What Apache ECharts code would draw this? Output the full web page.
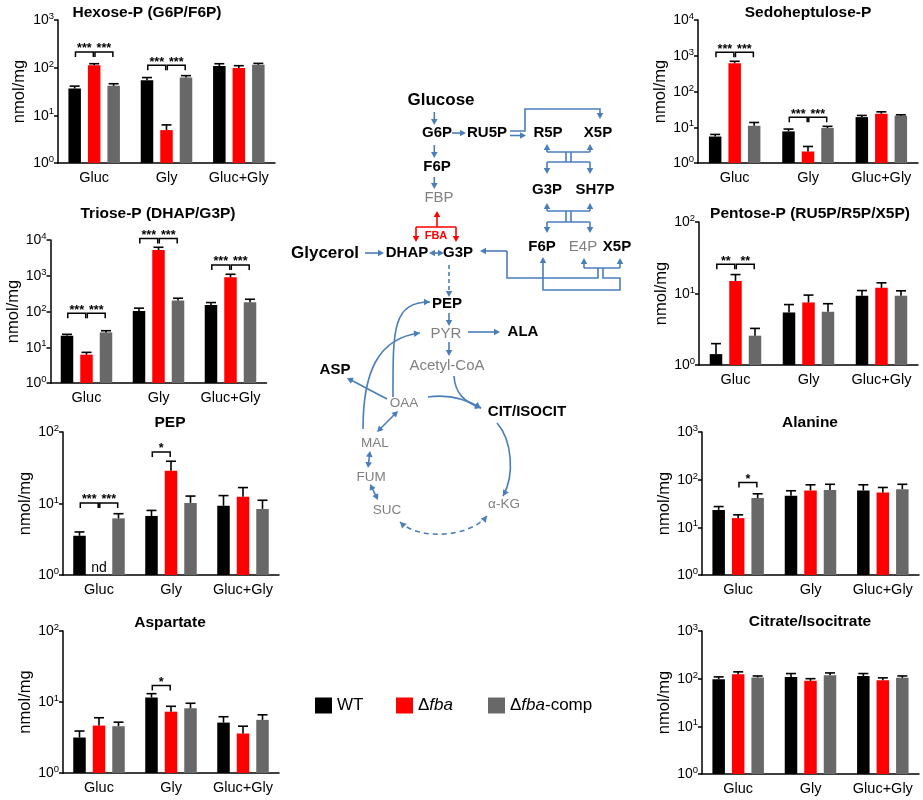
<!DOCTYPE html>
<html><head><meta charset="utf-8">
<script src="https://cdn.jsdelivr.net/npm/echarts@6/dist/echarts.min.js"></script>
<style>html,body{margin:0;padding:0;background:#fff}#c{width:923px;height:800px}</style>
</head><body><div id="c"></div>
<script>
// ---------------- DATA ----------------
const categories = ['Gluc', 'Gly', 'Gluc+Gly'];
const groupNames = ['WT', 'Δfba', 'Δfba-comp'];
const groupColors = ['#000000', '#ff0000', '#686868'];

// each: [WT, Δfba, Δfba-comp] x [Gluc, Gly, Gluc+Gly]; sig: [category, fromGroup, toGroup, bracketValue, stars]
const hexoseMean = [[36.5, 54.6, 108], [112, 4.9, 98.5], [41.5, 62, 115]];
const hexoseErr  = [[41, 62, 121], [121, 6.3, 110], [46, 68, 123]];
const hexoseSig  = [[0, 0, 1, 213, 3], [0, 1, 2, 213, 3], [1, 0, 1, 112, 3], [1, 1, 2, 112, 3]];

const trioseMean = [[21, 104, 153], [6.2, 5250, 910], [26, 203, 182]];
const trioseErr  = [[23, 124, 178], [7.2, 6260, 1100], [29, 235, 220]];
const trioseSig  = [[0, 0, 1, 90, 3], [0, 1, 2, 90, 3], [1, 0, 1, 11100, 3], [1, 1, 2, 11100, 3], [2, 0, 1, 2000, 3], [2, 1, 2, 2000, 3]];

const pepMean = [[3.54, 6.7, 9.3], [null, 28.6, 12.4], [6.2, 10.2, 8.4]];
const pepErr  = [[4.0, 8.0, 12.9], [null, 39, 16.7], [7.2, 12.7, 11.1]];
const pepSig  = [[0, 0, 1, 10.2, 3], [0, 1, 2, 10.2, 3], [1, 0, 1, 52.7, 1]];
const pepNotDetected = [[0, 1]]; // [category, group]

const aspMean = [[3.16, 11.6, 5.13], [4.66, 7.3, 3.6], [4.56, 8.15, 5.6]];
const aspErr  = [[3.9, 13.1, 6.2], [6.0, 8.7, 4.56], [5.2, 9.6, 6.6]];
const aspSig  = [[1, 0, 1, 17.1, 1]];

const sedoMean = [[5.5, 7.65, 19.2], [618, 2.1, 23.8], [11, 9.5, 21]];
const sedoErr  = [[6.3, 8.9, 21.4], [700, 2.9, 27], [13.6, 10.6, 22.3]];
const sedoSig  = [[0, 0, 1, 1250, 3], [0, 1, 2, 1250, 3], [1, 0, 1, 19, 3], [1, 1, 2, 19, 3]];

const pentoseMean = [[1.42, 5.43, 9.3], [15, 7.5, 12], [2.57, 5.55, 9.3]];
const pentoseErr  = [[1.99, 7.0, 11], [18.4, 9.5, 14.1], [3.25, 7.2, 10.9]];
const pentoseSig  = [[0, 0, 1, 25.7, 2], [0, 1, 2, 25.7, 2]];

const alaMean = [[23.2, 45.8, 59.3], [15.6, 59.5, 54], [41, 61, 63.2]];
const alaErr  = [[27.3, 58.5, 78], [18.3, 78, 68.6], [50.5, 80, 80]];
const alaSig  = [[0, 1, 2, 87.7, 1]];

const citMean = [[97.5, 109, 114], [124, 90, 93], [106, 118, 104]];
const citErr  = [[109, 128, 128], [139, 100, 104], [114, 132, 114]];
const citSig  = [];

const panelTitles = ['Hexose-P (G6P/F6P)', 'Triose-P (DHAP/G3P)', 'PEP', 'Aspartate',
                     'Sedoheptulose-P', 'Pentose-P (RU5P/R5P/X5P)', 'Alanine', 'Citrate/Isocitrate'];
const axisMax = [1e3, 1e4, 1e2, 1e2, 1e4, 1e2, 1e3, 1e3];
const yAxisName = 'nmol/mg';

// ---------------- LAYOUT ----------------
const FONT = "'Liberation Sans', Arial, Helvetica, sans-serif";
const layout = [
  {left: 58, top: 20, width: 217, height: 143, tx: 147, ty: 13, gap: 30},
  {left: 50.5, top: 240, width: 216, height: 143, tx: 158, ty: 214, gap: 25},
  {left: 63, top: 432, width: 216, height: 143, tx: 170, ty: 423, gap: 28},
  {left: 63, top: 631, width: 216, height: 142, tx: 170, ty: 623, gap: 28},
  {left: 698, top: 20, width: 220, height: 143, tx: 808, ty: 13, gap: 21},
  {left: 699, top: 222, width: 219, height: 143, tx: 810, ty: 214, gap: 26},
  {left: 702, top: 432, width: 217, height: 143, tx: 810, ty: 423, gap: 27},
  {left: 702, top: 631, width: 217, height: 143, tx: 810, ty: 622, gap: 27}
];
const panels = [
  [hexoseMean, hexoseErr, hexoseSig, []],
  [trioseMean, trioseErr, trioseSig, []],
  [pepMean, pepErr, pepSig, pepNotDetected],
  [aspMean, aspErr, aspSig, []],
  [sedoMean, sedoErr, sedoSig, []],
  [pentoseMean, pentoseErr, pentoseSig, []],
  [alaMean, alaErr, alaSig, []],
  [citMean, citErr, citSig, []]
];

const BAR_W = 12.5, BAR_GAP = 7, STEP = BAR_W + BAR_GAP;

const grids = [], xAxes = [], yAxes = [], series = [];
const graphics = [];

panels.forEach((p, i) => {
  const L = layout[i];
  const [mean, err, sig, nd] = p;
  grids.push({left: L.left, top: L.top, width: L.width, height: L.height, outerBoundsMode: 'none', containLabel: false});
  xAxes.push({
    type: 'category', gridIndex: i, data: categories,
    axisLine: {lineStyle: {color: '#000', width: 1.5}},
    axisTick: {show: false},
    axisLabel: {color: '#000', fontSize: 14.5, fontFamily: FONT, margin: 7, interval: 0}
  });
  yAxes.push({
    type: 'log', logBase: 10, gridIndex: i, min: 1, max: axisMax[i],
    axisLine: {show: true, lineStyle: {color: '#000', width: 1.5}},
    axisTick: {show: true, length: 4, lineStyle: {color: '#000', width: 1.5}},
    splitLine: {show: false}, minorTick: {show: false},
    axisLabel: {
      margin: 4, color: '#000', fontFamily: FONT,
      formatter: v => '{b|10}{s|' + Math.round(Math.log10(v)) + '}',
      rich: {
        b: {fontSize: 14, fontFamily: FONT, color: '#000', verticalAlign: 'bottom', lineHeight: 15},
        s: {fontSize: 9.5, fontFamily: FONT, color: '#000', verticalAlign: 'bottom', lineHeight: 9, padding: [0, 0, 6, 0]}
      }
    },
    name: yAxisName, nameLocation: 'middle', nameGap: L.gap,
    nameTextStyle: {color: '#000', fontSize: 16.5, fontFamily: FONT}
  });
  mean.forEach((vals, k) => {
    series.push({
      type: 'bar', name: groupNames[k], xAxisIndex: i, yAxisIndex: i,
      data: vals.map(v => v == null ? '-' : v),
      barWidth: BAR_W, barGap: (BAR_GAP / BAR_W * 100) + '%',
      itemStyle: {color: groupColors[k]}, silent: true, z: 2
    });
  });
  mean.forEach((vals, k) => {
    const d = [];
    vals.forEach((v, c) => { if (v != null) d.push([c, v, err[k][c]]); });
    series.push({
      type: 'custom', xAxisIndex: i, yAxisIndex: i, data: d, silent: true, z: 3, clip: false,
      renderItem: (params, api) => {
        const c = api.value(0), m = api.value(1), e = api.value(2);
        const p0 = api.coord([c, m]), p1 = api.coord([c, e]);
        const x = p0[0] + (k - 1) * STEP;
        return {type: 'group', children: [
          {type: 'line', shape: {x1: x, y1: p0[1], x2: x, y2: p1[1]}, style: {stroke: '#000', lineWidth: 1.6}},
          {type: 'line', shape: {x1: x - 5, y1: p1[1], x2: x + 5, y2: p1[1]}, style: {stroke: '#000', lineWidth: 1.6}}
        ]};
      }
    });
  });
  if (sig.length) {
    series.push({
      type: 'custom', xAxisIndex: i, yAxisIndex: i, data: sig, silent: true, z: 4, clip: false,
      renderItem: (params, api) => {
        const c = api.value(0), a = api.value(1), b = api.value(2), y = api.value(3), n = api.value(4);
        const pt = api.coord([c, y]);
        const xa = pt[0] + (a - 1) * STEP + 0.8, xb = pt[0] + (b - 1) * STEP - 0.8;
        const yy = pt[1];
        return {type: 'group', children: [
          {type: 'polyline', shape: {points: [[xa, yy + 5], [xa, yy], [xb, yy], [xb, yy + 5]]},
           style: {stroke: '#000', lineWidth: 1.5, fill: null}},
          {type: 'text', x: (xa + xb) / 2, y: yy - 3,
           style: {text: '*'.repeat(n), fill: '#000', fontSize: 12.5, fontWeight: 'bold', fontFamily: FONT,
                   align: 'center', verticalAlign: 'middle'}}
        ]};
      }
    });
  }
  if (nd.length) {
    series.push({
      type: 'custom', xAxisIndex: i, yAxisIndex: i, data: nd.map(r => [r[0], r[1], 1]), silent: true, z: 4, clip: false,
      renderItem: (params, api) => {
        const pt = api.coord([api.value(0), api.value(2)]);
        return {type: 'text', x: pt[0] + (api.value(1) - 1) * STEP, y: pt[1] - 7,
          style: {text: 'nd', fill: '#000', fontSize: 14, fontFamily: FONT, align: 'center', verticalAlign: 'middle'}};
      }
    });
  }
  graphics.push({type: 'text', x: L.tx, y: L.ty, silent: true,
    style: {text: panelTitles[i], fill: '#000', fontSize: 15.5, fontWeight: 'bold', fontFamily: FONT,
            align: 'center', verticalAlign: 'middle'}});
});

// ---------------- PATHWAY DIAGRAM ----------------
const BLUE = '#4a7ebb', RED = '#ff0000', GREY = '#808080';
function headAt(x, y, ang, color) {
  const L = 6, W = 3.3;
  const bx = x - L * Math.cos(ang), by = y - L * Math.sin(ang);
  const px = -Math.sin(ang) * W, py = Math.cos(ang) * W;
  graphics.push({type: 'polygon', silent: true, shape: {points: [[x, y], [bx + px, by + py], [bx - px, by - py]]},
    style: {fill: color, stroke: null}});
}
function seg(x1, y1, x2, y2, o = {}) {
  const c = o.color || BLUE;
  const ang = Math.atan2(y2 - y1, x2 - x1);
  let sx = x1, sy = y1, ex = x2, ey = y2;
  if (o.end !== false) { ex = x2 - 5 * Math.cos(ang); ey = y2 - 5 * Math.sin(ang); headAt(x2, y2, ang, c); }
  if (o.start) { sx = x1 + 5 * Math.cos(ang); sy = y1 + 5 * Math.sin(ang); headAt(x1, y1, ang + Math.PI, c); }
  graphics.push({type: 'line', silent: true, shape: {x1: sx, y1: sy, x2: ex, y2: ey},
    style: {stroke: c, lineWidth: o.w || 1.6, lineDash: o.dash || null}});
}
function ln(x1, y1, x2, y2, o = {}) { seg(x1, y1, x2, y2, Object.assign({end: false}, o)); }
function pl(points, o = {}) {
  graphics.push({type: 'polyline', silent: true, shape: {points},
    style: {stroke: o.color || BLUE, lineWidth: 1.6, fill: null}});
}
function curve(p0, c1, c2, p1, o = {}) {
  const c = o.color || BLUE;
  headAt(p1[0], p1[1], Math.atan2(p1[1] - c2[1], p1[0] - c2[0]), c);
  if (o.start) headAt(p0[0], p0[1], Math.atan2(p0[1] - c1[1], p0[0] - c1[0]), c);
  graphics.push({type: 'bezierCurve', silent: true,
    shape: {x1: p0[0], y1: p0[1], cpx1: c1[0], cpy1: c1[1], cpx2: c2[0], cpy2: c2[1], x2: p1[0], y2: p1[1]},
    style: {stroke: c, lineWidth: 1.6, fill: null, lineDash: o.dash || null}});
}
function label(t, x, y, o = {}) {
  graphics.push({type: 'text', x, y, silent: true, z: 10,
    style: {text: t, fill: o.color || (o.grey ? GREY : '#000'), fontSize: o.s || 15,
            fontWeight: o.grey ? 'normal' : 'bold', fontFamily: FONT, align: 'center', verticalAlign: 'middle'}});
}

label('Glucose', 441, 100, {s: 17});
label('G6P', 437, 133);
label('RU5P', 487, 133);
label('R5P', 548, 133);
label('X5P', 598, 133);
label('F6P', 437, 167);
label('FBP', 439, 198, {grey: 1});
label('FBA', 436, 236, {s: 11, color: RED});
label('Glycerol', 325, 253, {s: 17});
label('DHAP', 407, 253);
label('G3P', 458, 253);
label('G3P', 547, 190);
label('SH7P', 595, 190);
label('F6P', 542, 247);
label('E4P', 583, 247, {grey: 1});
label('X5P', 617, 247);
label('PEP', 447, 304);
label('PYR', 446, 334, {grey: 1});
label('ALA', 523, 332);
label('Acetyl-CoA', 447, 366, {grey: 1});
label('ASP', 335, 370);
label('OAA', 404, 403, {grey: 1, s: 13.5});
label('CIT/ISOCIT', 527, 412);
label('MAL', 375, 443, {grey: 1, s: 13.5});
label('FUM', 371, 477, {grey: 1, s: 13.5});
label('SUC', 387, 510, {grey: 1, s: 13.5});
label('α-KG', 504, 504, {grey: 1, s: 13.5});

seg(434.3, 112, 434.3, 125);
seg(452, 133, 466, 133);
pl([[510, 131], [525, 131], [525, 109], [600, 109], [600, 114]]);
headAt(600, 119, Math.PI / 2, BLUE);
seg(510, 135.5, 526, 135.5);
// transketolase R5P + X5P -> G3P + SH7P
seg(547, 152, 547, 144); seg(590, 152, 590, 144);
ln(547, 152, 590, 152);
ln(566, 152, 566, 162); ln(571, 152, 571, 162);
ln(547, 162, 590, 162);
seg(547, 162, 547, 174); seg(590, 162, 590, 174);
// transaldolase
seg(547, 211, 547, 203); seg(590, 211, 590, 203);
ln(547, 211, 590, 211);
ln(566, 211, 566, 222); ln(571, 211, 571, 222);
ln(547, 222, 590, 222);
seg(547, 222, 547, 233); seg(590, 222, 590, 233);
// transketolase E4P + X5P -> F6P + G3P
seg(584, 268, 584, 258); seg(620, 268, 620, 258);
ln(584, 268, 620, 268);
pl([[507, 251], [507, 278], [598, 278], [598, 268]]);
pl([[603, 268], [603, 278], [620, 278], [620, 290], [543, 290], [543, 262]]);
headAt(543, 257, -Math.PI / 2, BLUE);
seg(507, 251, 480, 251);
// glycolysis
seg(434.3, 145, 434.3, 158);
seg(434.3, 177, 434.3, 189);
seg(437, 227, 437, 211, {color: RED});
ln(416, 227, 456, 227, {color: RED});
seg(416, 227, 416, 242, {color: RED});
seg(456, 227, 456, 242, {color: RED});
seg(365, 253, 384, 253);
seg(429, 253, 444, 253, {start: true});
seg(449, 265, 449, 297, {dash: [4, 3]});
seg(449, 313, 449, 326);
seg(468, 332, 500, 332);
seg(449, 342, 449, 356);
// TCA
curve([454, 376], [455, 393], [464, 402], [481, 408]);
curve([428, 397], [448, 394], [466, 399], [481, 408]);
seg(387, 399, 347, 378);
curve([393, 397], [393, 330], [392, 302], [430, 302]);
curve([363, 429], [363, 372], [378, 338], [420, 333]);
curve([497, 423], [512, 440], [515, 475], [503, 496]);
curve([487, 516], [470, 537], [420, 541], [400, 522], {start: true, dash: [5, 4]});
seg(378, 500, 370, 484, {start: true});
seg(368, 468, 370, 451, {start: true});
seg(377, 432, 398, 411, {start: true});

// ---------------- LEGEND ----------------
const legendLeft = [315, 396, 488];
const legends = groupNames.map((n, k) => ({
  data: [n], left: legendLeft[k], top: 697, padding: 0, itemWidth: 17, itemHeight: 16, icon: 'rect',
  selectedMode: false,
  textStyle: {fontSize: 17, color: '#000', fontFamily: FONT,
              rich: {i: {fontSize: 17, fontStyle: 'italic', color: '#000', fontFamily: FONT}}},
  formatter: name => name.replace('fba', '{i|fba}')
}));

const chart = echarts.init(document.getElementById('c'), null, {renderer: 'canvas'});
chart.setOption({
  animation: false,
  backgroundColor: '#fff',
  textStyle: {fontFamily: FONT},
  grid: grids, xAxis: xAxes, yAxis: yAxes, series: series,
  legend: legends,
  graphic: graphics
});
</script>
</body></html>
